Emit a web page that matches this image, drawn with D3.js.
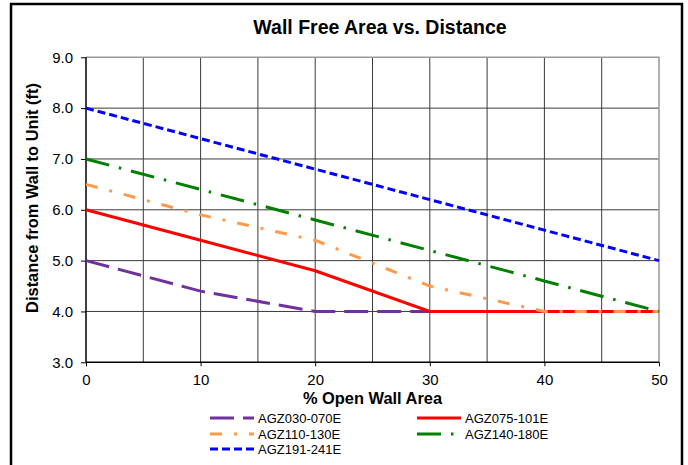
<!DOCTYPE html>
<html>
<head>
<meta charset="utf-8">
<script src="https://cdn.jsdelivr.net/npm/d3@7"></script>
<style>
  body { margin: 0; background: #fff; }
  svg text { font-family: "Liberation Sans", Arial, sans-serif; fill: #000; }
</style>
</head>
<body>
<div id="chart"></div>
<script>
var w = 688, h = 465;
var margin = {top: 57.3, right: 29, bottom: 102.7, left: 86};

// data
var xValues = [0, 10, 20, 30, 40, 50];
var agz030 = [5.0, 4.4, 4.0, 4.0, null, null];
var agz075 = [6.0, 5.4, 4.8, 4.0, 4.0, 4.0];
var agz110 = [6.5, 5.9, 5.4, 4.5, 4.0, 4.0];
var agz140 = [7.0, 6.4, 5.8, 5.2, 4.6, 4.0];
var agz191 = [8.0, 7.4, 6.8, 6.2, 5.6, 5.0];
var xTicks = [0, 10, 20, 30, 40, 50];
var yTicks = [3, 4, 5, 6, 7, 8, 9];

var seriesList = [
  {name: "AGZ030-070E", values: agz030, color: "#7030A0", dash: "24,9", width: 3},
  {name: "AGZ075-101E", values: agz075, color: "#FF0000", dash: null, width: 3},
  {name: "AGZ110-130E", values: agz110, color: "#FF9A4D", dash: "12,12,3,12", width: 3},
  {name: "AGZ140-180E", values: agz140, color: "#008000", dash: "24,10,2.5,10", width: 3},
  {name: "AGZ191-241E", values: agz191, color: "#0000FF", dash: "8,4", width: 3}
];

var svg = d3.select("#chart")
  .append("svg")
  .attr("width", w)
  .attr("height", h);

// outer frame
svg.append("rect")
  .attr("x", 11).attr("y", 4)
  .attr("width", 671).attr("height", h + 10)
  .attr("fill", "none")
  .attr("stroke", "#000")
  .attr("stroke-width", 2.5);

var xScale = d3.scaleLinear().domain([0, 50]).range([margin.left, w - margin.right]);
var yScale = d3.scaleLinear().domain([3, 9]).range([h - margin.bottom, margin.top]);

// grid
var grid = svg.append("g").attr("class", "grid");
grid.selectAll(".vgrid")
  .data(d3.range(5, 50, 5))
  .enter().append("line")
  .attr("x1", d => xScale(d)).attr("x2", d => xScale(d))
  .attr("y1", yScale(3)).attr("y2", yScale(9))
  .attr("stroke", "#3a3a3a").attr("stroke-width", 1);
grid.selectAll(".hgrid")
  .data(d3.range(4, 9, 1))
  .enter().append("line")
  .attr("x1", xScale(0)).attr("x2", xScale(50))
  .attr("y1", d => yScale(d)).attr("y2", d => yScale(d))
  .attr("stroke", "#3a3a3a").attr("stroke-width", 1);

// plot border top/right
svg.append("path")
  .attr("d", "M" + xScale(0) + "," + yScale(9) + "H" + xScale(50) + "V" + yScale(3))
  .attr("fill", "none")
  .attr("stroke", "#999")
  .attr("stroke-width", 1.5);

// axes
var yAxis = d3.axisLeft(yScale).tickValues(yTicks).tickSize(5).tickPadding(8)
  .tickFormat(d3.format(".1f"));
var xAxis = d3.axisBottom(xScale).tickValues(xTicks).tickSize(4).tickPadding(8);

var gy = svg.append("g")
  .attr("class", "axis")
  .attr("transform", "translate(" + margin.left + ",0)")
  .call(yAxis);
var gx = svg.append("g")
  .attr("class", "axis")
  .attr("transform", "translate(0," + (h - margin.bottom) + ")")
  .call(xAxis);
[gx, gy].forEach(g => {
  g.select(".domain").attr("stroke", "#000").attr("stroke-width", 1.5);
  g.selectAll(".tick line").attr("stroke", "#000").attr("stroke-width", 1);
  g.selectAll(".tick text").style("font-size", "15px").attr("fill", "#000");
});
gy.select(".domain").attr("d", "M0," + yScale(3) + "V" + yScale(9));
gx.select(".domain").attr("d", "M" + xScale(0) + ",0H" + xScale(50));

// lines
var line = d3.line()
  .defined(d => d.y !== null)
  .x(d => xScale(d.x))
  .y(d => yScale(d.y));

seriesList.forEach(s => {
  var pts = xValues.map((x, i) => ({x: x, y: s.values[i]}));
  svg.append("path")
    .datum(pts)
    .attr("class", "lineChart")
    .attr("d", line)
    .attr("fill", "none")
    .attr("stroke", s.color)
    .attr("stroke-width", s.width)
    .attr("stroke-dasharray", s.dash);
});

// titles
svg.append("text")
  .attr("x", 380).attr("y", 34)
  .style("text-anchor", "middle")
  .style("font-size", "19.5px")
  .style("font-weight", "bold")
  .text("Wall Free Area vs. Distance");

svg.append("text")
  .attr("x", (xScale(0) + xScale(50)) / 2).attr("y", 404)
  .style("text-anchor", "middle")
  .style("font-size", "16.4px")
  .style("font-weight", "bold")
  .text("% Open Wall Area");

svg.append("text")
  .attr("transform", "translate(37.5,198) rotate(-90)")
  .style("text-anchor", "middle")
  .style("font-size", "16.4px")
  .style("font-weight", "bold")
  .text("Distance from Wall to Unit (ft)");

// legend
var legendPos = [
  {x: 210, y: 418}, {x: 417, y: 418},
  {x: 210, y: 434}, {x: 417, y: 434},
  {x: 210, y: 449}
];
seriesList.forEach((s, i) => {
  var p = legendPos[i];
  var g = svg.append("g").attr("class", "legend");
  g.append("line")
    .attr("x1", p.x).attr("x2", p.x + 44)
    .attr("y1", p.y).attr("y2", p.y)
    .attr("stroke", s.color)
    .attr("stroke-width", s.width)
    .attr("stroke-dasharray", s.dash);
  g.append("text")
    .attr("x", p.x + 48).attr("y", p.y + 4.7)
    .style("font-size", "13px")
    .text(s.name);
});
</script>
</body>
</html>
